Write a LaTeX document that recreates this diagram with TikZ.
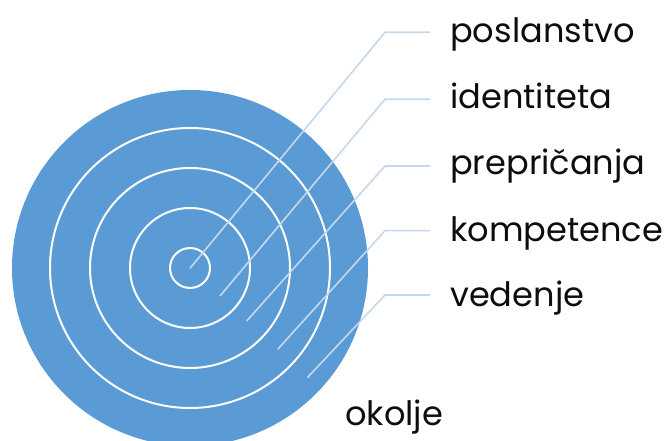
\documentclass[tikz,border=0pt]{standalone}
\usepackage{fontspec}
\setmainfont{Poppins}
\definecolor{ringblue}{HTML}{5B9BD5}
\definecolor{leader}{HTML}{C3D8EF}
\definecolor{labeltext}{HTML}{0D0D0D}
\tikzset{
  ring/.style={draw=white, line width=2pt*0.75, fill=none},
  leaderline/.style={draw=leader, line width=1.6pt*0.75},
  lbl/.style={anchor=base west, inner sep=0pt, text=labeltext,
              font=\fontsize{25.2}{30}\selectfont},
}
\begin{document}
\begin{tikzpicture}[x=0.75pt, y=-0.75pt]
\useasboundingbox (0,0) rectangle (667,441);
\clip (0,0) rectangle (667,441);

% concentric rings
\node[circle, fill=ringblue, minimum size=356*0.75pt, inner sep=0pt] (okolje) at (190,268) {};
\node[circle, ring, minimum size=280*0.75pt, inner sep=0pt] (vedenje) at (190,268) {};
\node[circle, ring, minimum size=200*0.75pt, inner sep=0pt] (kompetence) at (190,268) {};
\node[circle, ring, minimum size=120*0.75pt, inner sep=0pt] (prepricanja) at (190,268) {};
\node[circle, ring, minimum size=40*0.75pt, inner sep=0pt] (identiteta) at (190,268) {};

% labels
\node[lbl] (t1) at (450,42.7) {poslanstvo};
\node[lbl] (t2) at (450,109) {identiteta};
\node[lbl] (t3) at (450,175) {prepričanja};
\node[lbl] (t4) at (450,241.7) {kompetence};
\node[lbl] (t5) at (450,306.7) {vedenje};
\node[lbl] (t6) at (345,425) {okolje};

% leader start points, elbows and ends
\coordinate (s1) at (190,268.3);
\coordinate (s2) at (220,296);
\coordinate (s3) at (246.7,321);
\coordinate (s4) at (277.7,349.3);
\coordinate (s5) at (307.3,377.7);
\coordinate (k1) at (385,32.3);
\coordinate (k2) at (385,99.3);
\coordinate (k3) at (385,166);
\coordinate (k4) at (385,230.7);
\coordinate (k5) at (385,295);
\coordinate (e1) at (430,32.3);
\coordinate (e2) at (430,99.3);
\coordinate (e3) at (430,166);
\coordinate (e4) at (430,230.7);
\coordinate (e5) at (430,295);

\draw[leaderline] (s1) -- (k1) -- (e1);
\draw[leaderline] (s2) -- (k2) -- (e2);
\draw[leaderline] (s3) -- (k3) -- (e3);
\draw[leaderline] (s4) -- (k4) -- (e4);
\draw[leaderline] (s5) -- (k5) -- (e5);
\end{tikzpicture}
\end{document}
